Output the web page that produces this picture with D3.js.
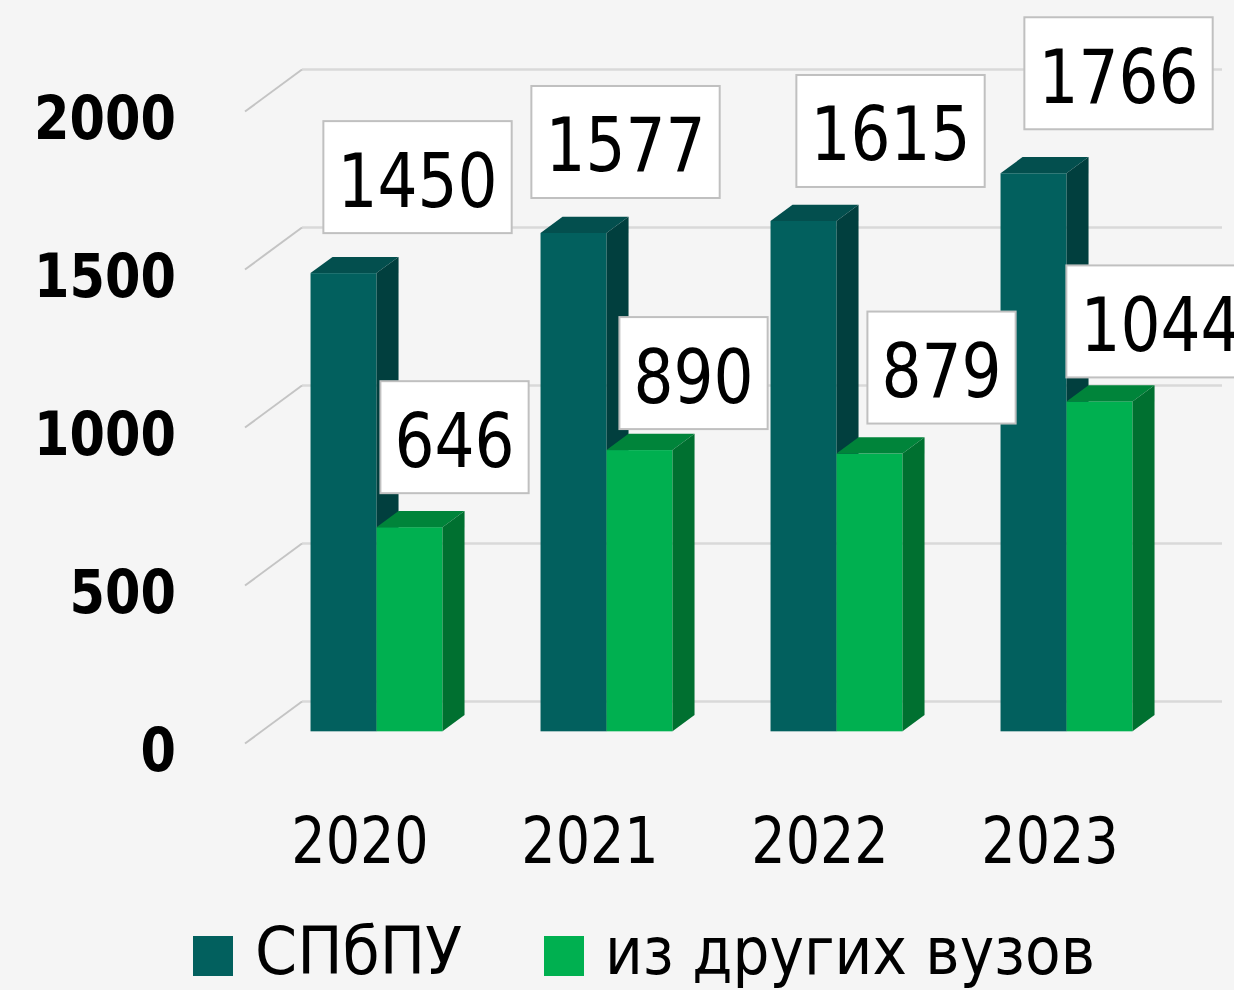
<!DOCTYPE html>
<html>
<head>
<meta charset="utf-8">
<script src="https://cdn.jsdelivr.net/npm/d3@7"></script>
<style>
  body { margin: 0; background: #f5f5f5; }
  svg { display: block; }
</style>
</head>
<body>
<div id="chart"></div>
<script>
// Chart data
const years = ["2020", "2021", "2022", "2023"];
const seriesNames = ["СПбПУ", "из других вузов"];
const spbpuValues = [1450, 1577, 1615, 1766];
const otherValues = [646, 890, 879, 1044];
const yTicks = [0, 500, 1000, 1500, 2000];

// Value boxes were moved by hand in the original, offset from bar top
const spbpuLabelShift = [[74, -96], [52, -91], [87, -90], [85, -100]];
const otherLabelShift = [[45, -90], [54, -77], [72, -86], [61, -80]];

const width = 1234, height = 990;
const colors = [
  { front: "#02605e", top: "#034f4e", side: "#013f3e" },
  { front: "#00b050", top: "#00843a", side: "#007030" }
];
const stretch = 1.2; // all text in the picture is drawn a bit taller

// 3D depth of the floor and where the bars sit in it
const depth = { dx: 57, dy: -42 };
const barFront = 0.29, barBack = 0.29 + 0.386;

const x = d3.scaleBand().domain(years).range([245, 1165]);
const inner = d3.scaleBand().domain(seriesNames).range([0, 132]);
const y = d3.scaleLinear().domain([0, 2000]).range([743.5, 111.5]);

const svg = d3.select("#chart").append("svg")
  .attr("width", width)
  .attr("height", height);

svg.append("rect")
  .attr("width", width)
  .attr("height", height)
  .attr("fill", "#f5f5f5");

// Gridlines: back wall lines and the slanted lines on the left side wall
const grid = svg.append("g");
yTicks.forEach(v => {
  grid.append("line")
    .attr("x1", x.range()[0] + depth.dx)
    .attr("x2", x.range()[1] + depth.dx)
    .attr("y1", y(v) + depth.dy)
    .attr("y2", y(v) + depth.dy)
    .attr("stroke", "#d9d9d9")
    .attr("stroke-width", 2.5);
  grid.append("line")
    .attr("x1", x.range()[0])
    .attr("y1", y(v))
    .attr("x2", x.range()[0] + depth.dx)
    .attr("y2", y(v) + depth.dy)
    .attr("stroke", "#c4c4c4")
    .attr("stroke-width", 2);
});

// Bars drawn as front face + top + right side
const bars = svg.append("g");
const barPos = [];
years.forEach((year, i) => {
  [spbpuValues[i], otherValues[i]].forEach((v, s) => {
    const x0 = x(year) + (x.bandwidth() - 132) / 2 + inner(seriesNames[s]) + depth.dx * barFront;
    const x1 = x0 + inner.bandwidth();
    const yb = y(0) + depth.dy * barFront;
    const yt = y(v) + depth.dy * barFront;
    const bdx = depth.dx * (barBack - barFront);
    const bdy = depth.dy * (barBack - barFront);

    bars.append("rect")
      .attr("x", x0)
      .attr("y", yt)
      .attr("width", x1 - x0)
      .attr("height", yb - yt)
      .attr("fill", colors[s].front);

    bars.append("polygon")
      .attr("points", [[x0, yt], [x1, yt], [x1 + bdx, yt + bdy], [x0 + bdx, yt + bdy]].join(" "))
      .attr("fill", colors[s].top);

    bars.append("polygon")
      .attr("points", [[x1, yt], [x1 + bdx, yt + bdy], [x1 + bdx, yb + bdy], [x1, yb]].join(" "))
      .attr("fill", colors[s].side);

    barPos.push({ cx: (x0 + x1) / 2, top: yt, value: v, s, i });
  });
});

// Value boxes
const labels = svg.append("g");
barPos.forEach(b => {
  const shift = b.s === 0 ? spbpuLabelShift[b.i] : otherLabelShift[b.i];
  const cx = b.cx + shift[0];
  const cy = b.top + shift[1];

  const box = labels.append("rect");
  const t = labels.append("g")
    .attr("transform", `translate(${cx},${cy + 29.5}) scale(1,${stretch})`)
    .append("text")
    .attr("text-anchor", "middle")
    .attr("font-family", "DejaVu Sans")
    .attr("font-size", 63)
    .attr("fill", "#000")
    .text(b.value);

  const w = t.node().getComputedTextLength() + 28;
  box.attr("x", cx - w / 2)
    .attr("y", cy - 56)
    .attr("width", w)
    .attr("height", 112)
    .attr("fill", "#fff")
    .attr("stroke", "#c0c0c0")
    .attr("stroke-width", 2);
});

// Y axis
const yAxis = svg.append("g")
  .attr("transform", "translate(176,0)")
  .call(d3.axisLeft(y).tickValues(yTicks).tickFormat(d3.format("d")).tickSize(0).tickPadding(0));
yAxis.select(".domain").remove();
yAxis.selectAll("text")
  .attr("dy", null)
  .attr("y", 27 / stretch)
  .attr("transform", `scale(1,${stretch})`)
  .attr("font-family", "DejaVu Sans")
  .attr("font-weight", "bold")
  .attr("font-size", 51)
  .attr("fill", "#000");

// X axis (years)
const xAxis = svg.append("g")
  .call(d3.axisBottom(x).tickSize(0).tickPadding(0));
xAxis.select(".domain").remove();
xAxis.selectAll("text")
  .attr("dy", null)
  .attr("y", 863 / stretch)
  .attr("transform", `scale(1,${stretch})`)
  .attr("font-family", "DejaVu Sans")
  .attr("font-size", 54)
  .attr("fill", "#000");

// Legend
const legendItems = [
  { x: 193, textX: 255, textW: 207 },
  { x: 544, textX: 605, textW: 490 }
];
const legend = svg.append("g");
legendItems.forEach((item, s) => {
  legend.append("rect")
    .attr("x", item.x)
    .attr("y", 936)
    .attr("width", 40)
    .attr("height", 40)
    .attr("fill", colors[s].front);
  legend.append("g")
    .attr("transform", `translate(${item.textX},974) scale(1,${stretch})`)
    .append("text")
    .attr("font-family", "DejaVu Sans")
    .attr("font-size", 55)
    .attr("textLength", item.textW)
    .attr("lengthAdjust", "spacingAndGlyphs")
    .attr("fill", "#000")
    .text(seriesNames[s]);
});
</script>
</body>
</html>
